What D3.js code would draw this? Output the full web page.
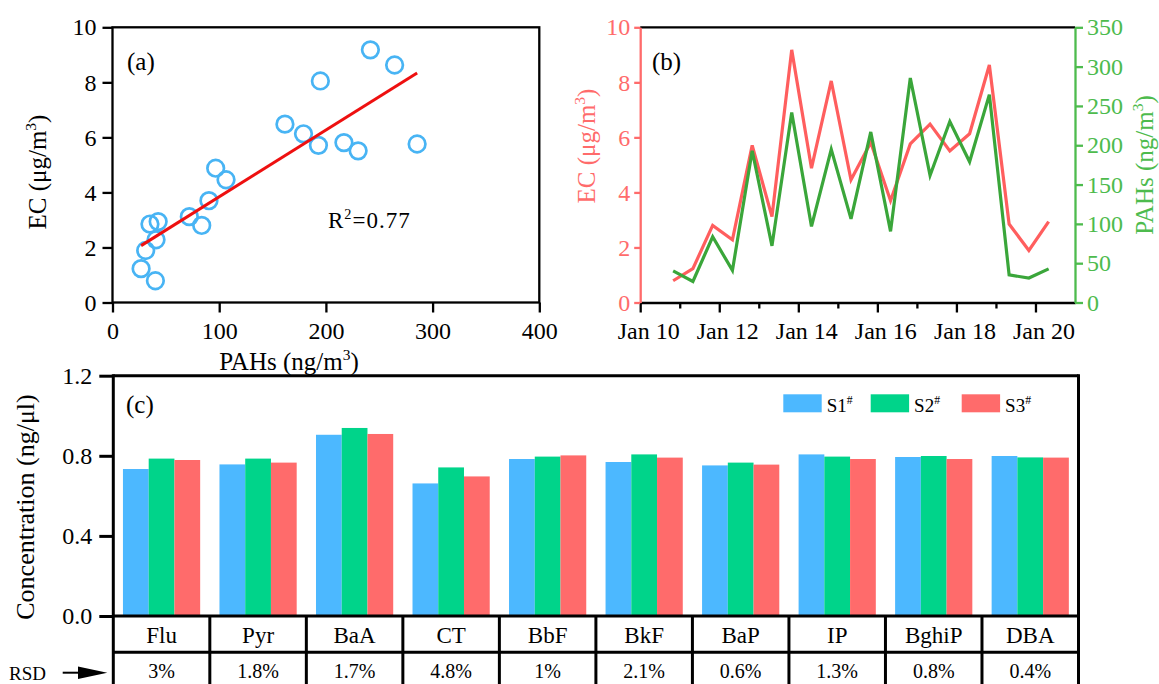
<!DOCTYPE html>
<html><head><meta charset="utf-8">
<script src="https://cdn.jsdelivr.net/npm/d3@7"></script>
<style>
body{margin:0;background:#fff;}
svg{display:block;}
svg text{font-family:'Liberation Serif','Times New Roman',serif !important;}
</style></head><body>
<svg id="chart" width="1159" height="684"></svg>
<script>
// ---------------- DATA ----------------
const sampleTimes = ["2019-01-10T20:00","2019-01-11T08:00","2019-01-11T20:00","2019-01-12T08:00","2019-01-12T20:00",
  "2019-01-13T08:00","2019-01-13T20:00","2019-01-14T08:00","2019-01-14T20:00","2019-01-15T08:00",
  "2019-01-15T20:00","2019-01-16T08:00","2019-01-16T20:00","2019-01-17T08:00","2019-01-17T20:00",
  "2019-01-18T08:00","2019-01-18T20:00","2019-01-19T08:00","2019-01-19T20:00","2019-01-20T08:00"];
const ecValues = [0.79,1.23,2.80,2.28,5.71,3.12,9.18,4.88,8.05,4.46,5.81,3.70,5.76,6.48,5.51,6.13,8.63,2.85,1.89,2.94];
const pahValues = [40.2,26.8,83.6,40.8,193.0,72.0,241.7,96.7,194.8,106.4,216.9,90.4,285.5,161.6,230.2,179.0,264.4,35.1,31.1,42.8];
const r2Label = "0.77";

const scatterXTicks = [0,100,200,300,400];
const ecTicks = [0,2,4,6,8,10];
const pahTicks = [0,50,100,150,200,250,300,350];
const majorTickDays = ["2019-01-10","2019-01-12","2019-01-14","2019-01-16","2019-01-18","2019-01-20"];
const minorTickDays = ["2019-01-11","2019-01-13","2019-01-15","2019-01-17","2019-01-19"];
const timeDomain = ["2019-01-10","2019-01-21"];

const compounds = ["Flu","Pyr","BaA","CT","BbF","BkF","BaP","IP","BghiP","DBA"];
const seriesNames = ["S1","S2","S3"];
const s1Values = [0.734,0.757,0.905,0.662,0.784,0.769,0.752,0.807,0.794,0.799];
const s2Values = [0.786,0.786,0.939,0.742,0.796,0.807,0.766,0.796,0.799,0.792];
const s3Values = [0.779,0.766,0.909,0.697,0.802,0.791,0.756,0.784,0.784,0.791];
const rsdLabels = ["3%","1.8%","1.7%","4.8%","1%","2.1%","0.6%","1.3%","0.8%","0.4%"];
const concTicks = [0,0.4,0.8,1.2];

// ---------------- STYLE ----------------
const C_BLUE = "#4cb8ff", C_GREEN = "#00d48a", C_RED = "#ff6b6b";
const C_CIRCLE = "#48b4f4", C_FIT = "#ee1010";
const C_EC = "#ff5e5e", C_EC_AX = "#ff6b6b", C_PAH = "#3aa63a", C_PAH_AX = "#4dbb4d";
const FONT = "'Liberation Serif','Times New Roman',serif";

const svg = d3.select("#chart");
svg.append("rect").attr("width",1159).attr("height",684).attr("fill","#fff");

function richText(g, parts, fs) {
  let shifted = false;
  parts.forEach(([t, sup]) => {
    const ts = g.append("tspan").text(t);
    if (sup) { ts.attr("font-size", (fs*0.62)+"px").attr("dy", -(fs*0.4)); shifted = true; }
    else if (shifted) { ts.attr("dy", fs*0.4); shifted = false; }
  });
}
function styleAxis(sel, fs, color, sw) {
  sel.attr("font-family", null);
  sel.selectAll(".tick text").attr("font-size", fs+"px").attr("fill", color).style("font-family", FONT);
  sel.selectAll(".tick line").attr("stroke", color).attr("stroke-width", sw);
  sel.select(".domain").attr("stroke", color).attr("stroke-width", sw);
}

// ---------------- PANEL (a) ----------------
const ax = d3.scaleLinear().domain([0,400]).range([112.5,539.3]);
const ay = d3.scaleLinear().domain([0,10]).range([302.5,27.3]);
const gA = svg.append("g");

gA.append("g").attr("transform",`translate(0,${ay(0)})`)
  .call(d3.axisBottom(ax).tickValues(scatterXTicks).tickSize(10).tickSizeOuter(0).tickPadding(9))
  .call(s => styleAxis(s, 24, "#000", 2.3)).call(s => s.select(".domain").remove());
gA.append("g").attr("transform",`translate(${ax(0)},0)`)
  .call(d3.axisLeft(ay).tickValues(ecTicks).tickSize(10).tickSizeOuter(0).tickPadding(6))
  .call(s => styleAxis(s, 24, "#000", 2.3)).call(s => s.select(".domain").remove());
gA.append("rect").attr("x",ax(0)).attr("y",ay(10)).attr("width",ax(400)-ax(0)).attr("height",ay(0)-ay(10))
  .attr("fill","none").attr("stroke","#000").attr("stroke-width",2.3);

// regression (least squares from the data)
const n = pahValues.length;
const mx = d3.mean(pahValues), my = d3.mean(ecValues);
let sxy = 0, sxx = 0;
for (let i=0;i<n;i++){ sxy += (pahValues[i]-mx)*(ecValues[i]-my); sxx += (pahValues[i]-mx)**2; }
const slope = sxy/sxx, icpt = my - slope*mx;
const [xmin, xmax] = d3.extent(pahValues);

gA.selectAll("circle.pt").data(pahValues.map((p,i)=>({p, e: ecValues[i]}))).join("circle")
  .attr("class","pt").attr("cx", d=>ax(d.p)).attr("cy", d=>ay(d.e)).attr("r",8.3)
  .attr("fill","none").attr("stroke",C_CIRCLE).attr("stroke-width",2.7);
gA.append("line").attr("x1",ax(xmin)).attr("y1",ay(icpt+slope*xmin)).attr("x2",ax(xmax)).attr("y2",ay(icpt+slope*xmax))
  .attr("stroke",C_FIT).attr("stroke-width",3);

gA.append("text").attr("x",127).attr("y",70).attr("font-size","25px").text("(a)");
const r2 = gA.append("text").attr("x",328).attr("y",228).attr("font-size","23px").attr("letter-spacing","1px");
richText(r2, [["R",false],["2",true],["="+r2Label,false]], 23);
const aXT = gA.append("text").attr("x",289).attr("y",370).attr("text-anchor","middle").attr("font-size","25px");
richText(aXT, [["PAHs (ng/m",false],["3",true],[")",false]], 25);
const aYT = gA.append("text").attr("transform","translate(46,172) rotate(-90)").attr("text-anchor","middle").attr("font-size","25px");
richText(aYT, [["EC (μg/m",false],["3",true],[")",false]], 25);

// ---------------- PANEL (b) ----------------
const parseT = d3.timeParse("%Y-%m-%dT%H:%M");
const parseD = d3.timeParse("%Y-%m-%d");
const bx = d3.scaleTime().domain(timeDomain.map(parseD)).range([640.2,1075]);
const byL = d3.scaleLinear().domain([0,10]).range([302.5,27.3]);
const byR = d3.scaleLinear().domain([0,350]).range([302.5,27.3]);
const gB = svg.append("g");
const times = sampleTimes.map(parseT);

gB.append("line").attr("x1",bx.range()[0]).attr("x2",bx.range()[1]).attr("y1",byL(10)).attr("y2",byL(10))
  .attr("stroke","#000").attr("stroke-width",2.3);
gB.append("g").attr("transform",`translate(0,${byL(0)})`)
  .call(d3.axisBottom(bx).tickValues(minorTickDays.map(parseD)).tickSize(6).tickSizeOuter(0).tickFormat(""))
  .call(s => styleAxis(s, 24, "#000", 2.3)).call(s => s.select(".domain").remove());
gB.append("g").attr("transform",`translate(0,${byL(0)})`)
  .call(d3.axisBottom(bx).tickValues(majorTickDays.map(parseD)).tickSize(10).tickSizeOuter(0).tickPadding(9).tickFormat(d3.timeFormat("%b %d")))
  .call(s => styleAxis(s, 24, "#000", 2.3)).call(s => s.selectAll(".tick text").attr("dx", 8));
gB.append("g").attr("transform",`translate(${bx.range()[0]},0)`)
  .call(d3.axisLeft(byL).tickValues(ecTicks).tickSize(6).tickSizeOuter(0).tickPadding(4))
  .call(s => styleAxis(s, 24, C_EC_AX, 2.3));
gB.append("g").attr("transform",`translate(${bx.range()[1]},0)`)
  .call(d3.axisRight(byR).tickValues(pahTicks).tickSize(8).tickSizeOuter(0).tickPadding(4))
  .call(s => styleAxis(s, 24, C_PAH_AX, 2.3));

gB.append("path").datum(times.map((t,i)=>[t, ecValues[i]]))
  .attr("d", d3.line().x(d=>bx(d[0])).y(d=>byL(d[1])))
  .attr("fill","none").attr("stroke",C_EC).attr("stroke-width",3.2).attr("stroke-linejoin","miter");
gB.append("path").datum(times.map((t,i)=>[t, pahValues[i]]))
  .attr("d", d3.line().x(d=>bx(d[0])).y(d=>byR(d[1])))
  .attr("fill","none").attr("stroke",C_PAH).attr("stroke-width",3.2).attr("stroke-linejoin","miter");

gB.append("text").attr("x",652).attr("y",70).attr("font-size","25px").text("(b)");
const bYL = gB.append("text").attr("transform","translate(595,146) rotate(-90)").attr("text-anchor","middle").attr("font-size","25px").attr("fill",C_EC_AX);
richText(bYL, [["EC (μg/m",false],["3",true],[")",false]], 25);
const bYR = gB.append("text").attr("transform","translate(1153,165) rotate(-90)").attr("text-anchor","middle").attr("font-size","25px").attr("fill",C_PAH_AX);
richText(bYR, [["PAHs (ng/m",false],["3",true],[")",false]], 25);

// ---------------- PANEL (c) ----------------
const L = 113.3, R = 1078.5, T = 375.7, B = 616, ROW = 652.3, BOT = 690;
const cx = d3.scaleBand().domain(compounds).range([L,R]).paddingInner(0.2).paddingOuter(0.1);
const tx = d3.scaleBand().domain(compounds).range([L,R]).padding(0);
const sx = d3.scaleBand().domain(seriesNames).range([0,cx.bandwidth()]);
const cy = d3.scaleLinear().domain([0,1.2]).range([B,T]);
const colors = {S1:C_BLUE, S2:C_GREEN, S3:C_RED};
const gC = svg.append("g");

const barData = [];
compounds.forEach((c,i)=>{
  barData.push({c, s:"S1", v:s1Values[i]});
  barData.push({c, s:"S2", v:s2Values[i]});
  barData.push({c, s:"S3", v:s3Values[i]});
});
gC.selectAll("rect.bar").data(barData).join("rect").attr("class","bar")
  .attr("x", d=>cx(d.c)+sx(d.s)).attr("width", sx.bandwidth())
  .attr("y", d=>cy(d.v)).attr("height", d=>cy(0)-cy(d.v)).attr("fill", d=>colors[d.s]);

gC.append("g").attr("transform",`translate(${L},0)`)
  .call(d3.axisLeft(cy).tickValues(concTicks).tickFormat(d3.format(".1f")).tickSize(14).tickSizeOuter(0).tickPadding(7))
  .call(s => styleAxis(s, 24, "#000", 3)).call(s => s.select(".domain").remove());

const lw = 3;
gC.append("line").attr("x1",L).attr("x2",R).attr("y1",T).attr("y2",T).attr("stroke","#000").attr("stroke-width",lw);
gC.append("line").attr("x1",L).attr("x2",R).attr("y1",B).attr("y2",B).attr("stroke","#000").attr("stroke-width",lw);
gC.append("line").attr("x1",L).attr("x2",R).attr("y1",ROW).attr("y2",ROW).attr("stroke","#000").attr("stroke-width",lw);
gC.append("line").attr("x1",L).attr("x2",L).attr("y1",T-1.5).attr("y2",BOT).attr("stroke","#000").attr("stroke-width",lw);
gC.append("line").attr("x1",R).attr("x2",R).attr("y1",T-1.5).attr("y2",BOT).attr("stroke","#000").attr("stroke-width",lw);
gC.selectAll("line.col").data(compounds.slice(1)).join("line").attr("class","col")
  .attr("x1", d=>tx(d)).attr("x2", d=>tx(d)).attr("y1",B).attr("y2",BOT).attr("stroke","#000").attr("stroke-width",lw);

gC.selectAll("text.cat").data(compounds).join("text").attr("class","cat")
  .attr("x", d=>tx(d)+tx.bandwidth()/2).attr("y",642.7).attr("text-anchor","middle").attr("font-size","23px").text(d=>d);
gC.selectAll("text.rsd").data(rsdLabels).join("text").attr("class","rsd")
  .attr("x", (d,i)=>tx(compounds[i])+tx.bandwidth()/2).attr("y",677.5).attr("text-anchor","middle").attr("font-size","20px").text(d=>d);

gC.append("text").attr("x",9).attr("y",680).attr("font-size","19px").text("RSD");
gC.append("line").attr("x1",62.7).attr("x2",80).attr("y1",672.7).attr("y2",672.7).attr("stroke","#000").attr("stroke-width",2);
gC.append("path").attr("d","M78,666.4 L107.3,672.7 L78,679 Z").attr("fill","#000");

gC.append("text").attr("x",126).attr("y",413).attr("font-size","25px").text("(c)");
const cYT = gC.append("text").attr("transform","translate(34,507) rotate(-90)").attr("text-anchor","middle").attr("font-size","26px");
richText(cYT, [["Concentration (ng/μl)",false]], 26);

// legend
const legX = [783.3, 870.7, 961.7];
seriesNames.forEach((s,i)=>{
  gC.append("rect").attr("x",legX[i]).attr("y",394.3).attr("width",38.4).attr("height",18).attr("fill",colors[s]);
  const t = gC.append("text").attr("x",legX[i]+43.4).attr("y",411.5).attr("font-size","19px");
  richText(t, [[s,false],["#",true]], 19);
});
svg.selectAll("text").style("font-family", FONT);
</script>
</body></html>
